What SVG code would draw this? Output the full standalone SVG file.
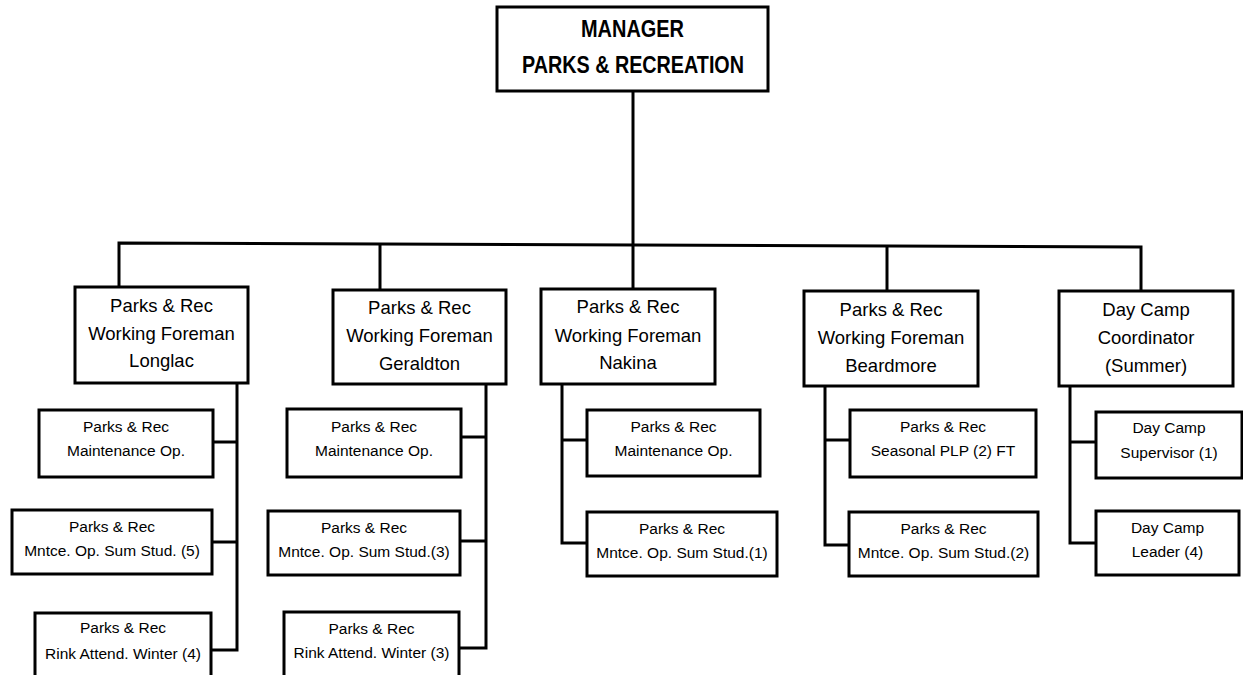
<svg xmlns="http://www.w3.org/2000/svg" width="1243" height="675" viewBox="0 0 1243 675">
<style>
.b{fill:#fff;stroke:#000;stroke-width:3}
.c{fill:none;stroke:#000;stroke-width:3;stroke-linejoin:miter}
text{font-family:"Liberation Sans",Arial,sans-serif;fill:#000;text-anchor:middle}
.h{font-size:24px;font-weight:bold}
.m{font-size:18.5px}
.s{font-size:15.5px}
</style>
<rect width="1243" height="675" fill="#fff"/>
<g id="connectors">
<polyline class="c" points="633,91 633,289"/>
<polyline class="c" points="119,287 119,243 1141,247 1141,291"/>
<polyline class="c" points="380,243.9 380,290"/>
<polyline class="c" points="887,245.7 887,291"/>
<polyline class="c" points="237,383 237,650 211,650"/>
<line class="c" x1="213" y1="442" x2="237" y2="442"/>
<line class="c" x1="212" y1="542" x2="237" y2="542"/>
<polyline class="c" points="486,384 486,648 459,648"/>
<line class="c" x1="461" y1="437" x2="486" y2="437"/>
<line class="c" x1="460" y1="541" x2="486" y2="541"/>
<polyline class="c" points="562,384 562,543 587,543"/>
<line class="c" x1="562" y1="440" x2="587" y2="440"/>
<polyline class="c" points="825,386 825,545 849,545"/>
<line class="c" x1="825" y1="440" x2="850" y2="440"/>
<polyline class="c" points="1070,386 1070,543 1096,543"/>
<line class="c" x1="1070" y1="442" x2="1096" y2="442"/>
</g>
<g id="manager">
<rect class="b" x="497" y="7" width="271" height="84"/>
<text class="h" x="632.5" y="37" textLength="103" lengthAdjust="spacingAndGlyphs">MANAGER</text>
<text class="h" x="633" y="73" textLength="222" lengthAdjust="spacingAndGlyphs">PARKS &amp; RECREATION</text>
</g>
<g id="foreman-longlac">
<rect class="b" x="75" y="287" width="173" height="96"/>
<text class="m" x="161.5" y="312">Parks &amp; Rec</text>
<text class="m" x="161.5" y="340">Working Foreman</text>
<text class="m" x="161.5" y="367">Longlac</text>
</g>
<g id="foreman-geraldton">
<rect class="b" x="333" y="290" width="173" height="94"/>
<text class="m" x="419.5" y="314">Parks &amp; Rec</text>
<text class="m" x="419.5" y="342">Working Foreman</text>
<text class="m" x="419.5" y="370">Geraldton</text>
</g>
<g id="foreman-nakina">
<rect class="b" x="541" y="289" width="174" height="95"/>
<text class="m" x="628" y="313">Parks &amp; Rec</text>
<text class="m" x="628" y="342">Working Foreman</text>
<text class="m" x="628" y="369">Nakina</text>
</g>
<g id="foreman-beardmore">
<rect class="b" x="804" y="291" width="174" height="95"/>
<text class="m" x="891" y="316">Parks &amp; Rec</text>
<text class="m" x="891" y="344">Working Foreman</text>
<text class="m" x="891" y="372">Beardmore</text>
</g>
<g id="daycamp-coordinator">
<rect class="b" x="1059" y="291" width="174" height="95"/>
<text class="m" x="1146" y="316">Day Camp</text>
<text class="m" x="1146" y="344">Coordinator</text>
<text class="m" x="1146" y="372">(Summer)</text>
</g>
<g id="longlac-maint">
<rect class="b" x="39" y="410" width="174" height="67"/>
<text class="s" x="126" y="432">Parks &amp; Rec</text>
<text class="s" x="126" y="456">Maintenance Op.</text>
</g>
<g id="longlac-stud">
<rect class="b" x="12" y="510" width="200" height="64"/>
<text class="s" x="112" y="532">Parks &amp; Rec</text>
<text class="s" x="112" y="556">Mntce. Op. Sum Stud. (5)</text>
</g>
<g id="longlac-rink">
<rect class="b" x="35" y="613" width="176" height="70"/>
<text class="s" x="123" y="633">Parks &amp; Rec</text>
<text class="s" x="123" y="659">Rink Attend. Winter (4)</text>
</g>
<g id="geraldton-maint">
<rect class="b" x="287" y="409" width="174" height="68"/>
<text class="s" x="374" y="432">Parks &amp; Rec</text>
<text class="s" x="374" y="456">Maintenance Op.</text>
</g>
<g id="geraldton-stud">
<rect class="b" x="268" y="511" width="192" height="64"/>
<text class="s" x="364" y="533">Parks &amp; Rec</text>
<text class="s" x="364" y="557">Mntce. Op. Sum Stud.(3)</text>
</g>
<g id="geraldton-rink">
<rect class="b" x="284" y="612" width="175" height="70"/>
<text class="s" x="371.5" y="634">Parks &amp; Rec</text>
<text class="s" x="371.5" y="658">Rink Attend. Winter (3)</text>
</g>
<g id="nakina-maint">
<rect class="b" x="587" y="410" width="173" height="66"/>
<text class="s" x="673.5" y="432">Parks &amp; Rec</text>
<text class="s" x="673.5" y="456">Maintenance Op.</text>
</g>
<g id="nakina-stud">
<rect class="b" x="587" y="512" width="190" height="64"/>
<text class="s" x="682" y="534">Parks &amp; Rec</text>
<text class="s" x="682" y="558">Mntce. Op. Sum Stud.(1)</text>
</g>
<g id="beardmore-seasonal">
<rect class="b" x="850" y="410" width="186" height="67"/>
<text class="s" x="943" y="432">Parks &amp; Rec</text>
<text class="s" x="943" y="456">Seasonal PLP (2) FT</text>
</g>
<g id="beardmore-stud">
<rect class="b" x="849" y="512" width="189" height="64"/>
<text class="s" x="943.5" y="534">Parks &amp; Rec</text>
<text class="s" x="943.5" y="558">Mntce. Op. Sum Stud.(2)</text>
</g>
<g id="daycamp-supervisor">
<rect class="b" x="1096" y="412" width="146" height="66"/>
<text class="s" x="1169" y="433">Day Camp</text>
<text class="s" x="1169" y="458">Supervisor (1)</text>
</g>
<g id="daycamp-leader">
<rect class="b" x="1096" y="511" width="143" height="64"/>
<text class="s" x="1167.5" y="533">Day Camp</text>
<text class="s" x="1167.5" y="557">Leader (4)</text>
</g>
</svg>
